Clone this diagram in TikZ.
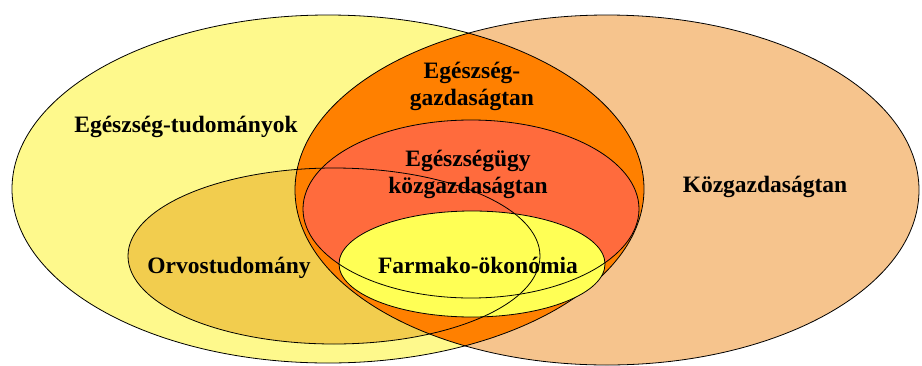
\documentclass[tikz,border=0pt]{standalone}
\usepackage{fontspec}
\setmainfont{Liberation Serif}
\usepackage{tikz}
\definecolor{healthyellow}{RGB}{254,249,140}
\definecolor{econpeach}{RGB}{246,196,141}
\definecolor{lensorange}{RGB}{255,128,0}
\definecolor{carered}{RGB}{255,107,61}
\definecolor{medtan}{RGB}{242,205,78}
\definecolor{pharmayellow}{RGB}{255,255,85}

\begin{document}
\begin{tikzpicture}[x=1pt,y=-1pt,
    outline/.style={draw=black,line width=0.8pt},
    lbl/.style={font=\bfseries\fontsize{23.5}{27}\selectfont,align=center,anchor=base,inner sep=0pt}]
  \useasboundingbox (0,0) rectangle (922,365);
  % two big fields
  \fill[healthyellow] (328,189) ellipse [x radius=316,y radius=174];
  \fill[econpeach] (607,190) ellipse [x radius=312,y radius=175];
  % medicine, under the overlap
  \fill[medtan] (334,256) ellipse [x radius=206,y radius=88];
  % overlap of the two big fields
  \begin{scope}
    \clip (328,189) ellipse [x radius=316,y radius=174];
    \fill[lensorange] (607,190) ellipse [x radius=312,y radius=175];
  \end{scope}
  \draw[outline] (328,189) ellipse [x radius=316,y radius=174];
  \draw[outline] (607,190) ellipse [x radius=312,y radius=175];
  % health care economics and pharmaco-economics
  \fill[carered] (471,209) ellipse [x radius=168,y radius=89];
  \filldraw[outline,fill=pharmayellow] (472,264) ellipse [x radius=133,y radius=53];
  \draw[outline] (471,209) ellipse [x radius=168,y radius=89];
  \draw[outline] (334,256) ellipse [x radius=206,y radius=88];
  % labels (base = last line)
  \node[lbl] (health) at (186,132) {Egészség-tudományok};
  \node[lbl] (econ) at (765,192) {Közgazdaságtan};
  \node[lbl] (heco) at (472,105) {Egészség-\\gazdaságtan};
  \node[lbl] (hcare) at (468,193) {Egészségügy\\közgazdaságtan};
  \node[lbl] (pharma) at (478,273) {Farmako-ökonómia};
  \node[lbl] (med) at (229,273) {Orvostudomány};
\end{tikzpicture}
\end{document}
